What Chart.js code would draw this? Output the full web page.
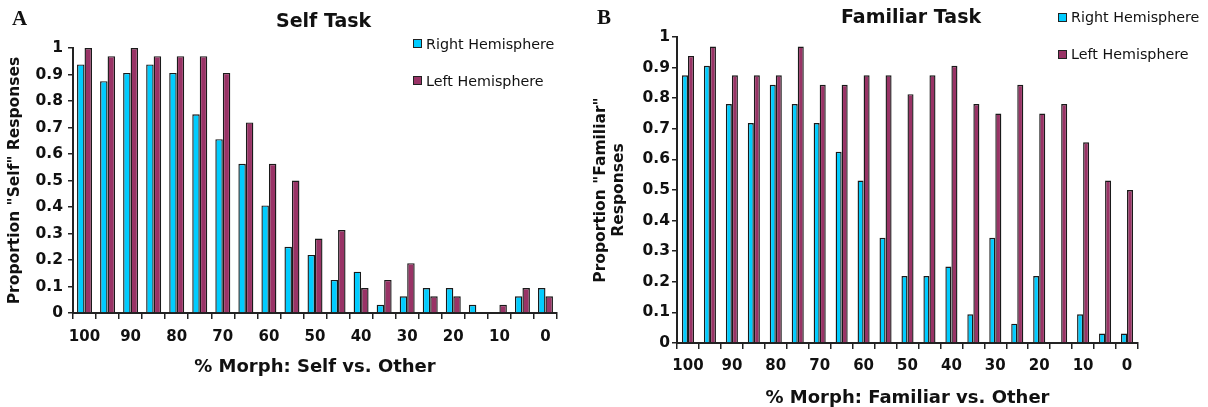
<!DOCTYPE html>
<html><head><meta charset="utf-8">
<script src="https://cdn.jsdelivr.net/npm/chart.js@4"></script>
<style>
html,body{margin:0;padding:0;background:#fff;}
body{width:1208px;height:407px;overflow:hidden;position:relative;font-family:"DejaVu Sans";color:#111;}
.panel{position:absolute;top:0;height:407px;}
canvas{position:absolute;left:0;top:0;}
.lbl{position:absolute;font-family:"Liberation Serif";font-weight:bold;font-size:21px;line-height:1;}
.ttl{position:absolute;font-weight:bold;font-size:19px;line-height:1;white-space:nowrap;}
.sw{position:absolute;width:7px;height:7px;border:1px solid #222;}
.lt{position:absolute;font-size:14.3px;line-height:1;white-space:nowrap;}
</style></head>
<body>
<div class="panel" id="pA" style="left:0;width:590px;">
  <canvas id="cA" width="590" height="407"></canvas>
</div>
<div class="panel" id="pB" style="left:590px;width:618px;">
  <canvas id="cB" width="618" height="407"></canvas>
</div>
<div class="lbl" style="left:12px;top:8px;">A</div>
<div class="lbl" style="left:597px;top:7px;">B</div>
<div class="ttl" style="left:276px;top:11px;">Self Task</div>
<div class="ttl" style="left:841px;top:7px;">Familiar Task</div>
<div id="legA"></div>
<div id="legB"></div>
<script>
// categories (% morph), every other one labelled
const categories = ['100','95','90','85','80','75','70','65','60','55','50','45','40','35','30','25','20','15','10','5','0'];
const seriesNames = ['Right Hemisphere','Left Hemisphere'];
const seriesColors = ['#00CCFF','#993366'];

// Panel A: Self Task
const selfRight = [0.938,0.875,0.906,0.938,0.906,0.75,0.656,0.563,0.406,0.25,0.219,0.125,0.156,0.031,0.063,0.094,0.094,0.031,0,0.063,0.094];
const selfLeft  = [1.0,0.969,1.0,0.969,0.969,0.969,0.906,0.719,0.563,0.5,0.281,0.313,0.094,0.125,0.188,0.063,0.063,0,0.031,0.094,0.063];

// Panel B: Familiar Task
const famRight = [0.875,0.906,0.781,0.719,0.844,0.781,0.719,0.625,0.531,0.344,0.219,0.219,0.25,0.094,0.344,0.063,0.219,0,0.094,0.031,0.031];
const famLeft  = [0.938,0.969,0.875,0.875,0.875,0.969,0.844,0.844,0.875,0.875,0.813,0.875,0.906,0.781,0.75,0.844,0.75,0.781,0.656,0.531,0.5];

const yTicks = {min:0, max:1, step:0.1};

function makeChart(id, o) {
  const tickFont = {family:'DejaVu Sans', weight:'bold', size:15};
  const bw = {top:1.4, left:1.4, right:1.4, bottom:0};
  return new Chart(document.getElementById(id), {
    type:'bar',
    data:{
      labels: categories,
      datasets: [
        {label: seriesNames[0], data: o.right, backgroundColor: seriesColors[0], borderColor:'#1a1a1a', borderWidth:bw, categoryPercentage:o.catPct, barPercentage:1},
        {label: seriesNames[1], data: o.left, backgroundColor: seriesColors[1], borderColor:'#1a1a1a', borderWidth:bw, categoryPercentage:o.catPct, barPercentage:1}
      ]
    },
    options:{
      responsive:false, animation:false, devicePixelRatio:1,
      layout:{padding:{left:0, top:o.padTop, right:o.padRight, bottom:0}},
      plugins:{legend:{display:false}, title:{display:false}, tooltip:{enabled:false}},
      scales:{
        x:{
          grid:{offset:true, drawOnChartArea:false, drawTicks:true, tickLength:6, color:'#222', lineWidth:1.5},
          border:{color:'#222', width:2},
          ticks:{autoSkip:false, maxRotation:0, minRotation:0, padding:o.xPad, color:'#111', font:tickFont,
            callback:function(v,i){ return i%2===0 ? this.getLabelForValue(v) : ''; }},
          title:{display:true, text:o.xTitle, color:'#111', font:{family:'DejaVu Sans', weight:'bold', size:18, lineHeight:1}, padding:{top:0,bottom:o.xTitlePad}},
          afterFit:function(s){ s.height = o.xH; }
        },
        y:{
          min:yTicks.min, max:yTicks.max,
          grid:{drawOnChartArea:false, drawTicks:true, tickLength:5, color:'#222', lineWidth:1.5},
          border:{color:'#222', width:2},
          ticks:{stepSize:yTicks.step, padding:o.yPad, color:'#111', font:{family:'DejaVu Sans', weight:'bold', size:15.5},
            callback:function(v){ return String(+v.toFixed(1)); }},
          title:{display:true, text:o.yTitle, color:'#111', font:{family:'DejaVu Sans', weight:'bold', size:o.yTitleSize, lineHeight:o.yTitleLH}, padding:{top:o.yTitlePad,bottom:0}},
          afterFit:function(s){ s.width = o.yW; }
        }
      }
    }
  });
}

const chartA = makeChart('cA', {
  right:selfRight, left:selfLeft, catPct:0.65,
  padTop:48, padRight:33, xH:94, yW:73, xPad:9, yPad:5,
  xTitle:'% Morph: Self vs. Other', xTitlePad:31,
  yTitle:'Proportion "Self" Responses', yTitleSize:15.5, yTitleLH:1.2, yTitlePad:5.7
});
const chartB = makeChart('cB', {
  right:famRight, left:famLeft, catPct:0.55,
  padTop:37, padRight:70, xH:64, yW:87, xPad:8.5, yPad:2,
  xTitle:'% Morph: Familiar vs. Other', xTitlePad:0,
  yTitle:['Proportion "Familiar"','Responses'], yTitleSize:15.5, yTitleLH:1.13, yTitlePad:2.7
});

// HTML legends built from the chart datasets
function buildLegend(elId, chart, x, ys) {
  const el = document.getElementById(elId);
  chart.data.datasets.forEach((ds, i) => {
    const cy = ys[i];
    const sw = document.createElement('div');
    sw.className = 'sw';
    sw.style.left = x + 'px';
    sw.style.top = (cy - 4.5) + 'px';
    sw.style.background = ds.backgroundColor;
    el.appendChild(sw);
    const t = document.createElement('div');
    t.className = 'lt';
    t.textContent = ds.label;
    t.style.left = (x + 13) + 'px';
    t.style.top = (cy - 6.7) + 'px';
    el.appendChild(t);
  });
}
buildLegend('legA', chartA, 413, [43.4, 80.5]);
buildLegend('legB', chartB, 1058, [17, 54]);
</script>
</body></html>
